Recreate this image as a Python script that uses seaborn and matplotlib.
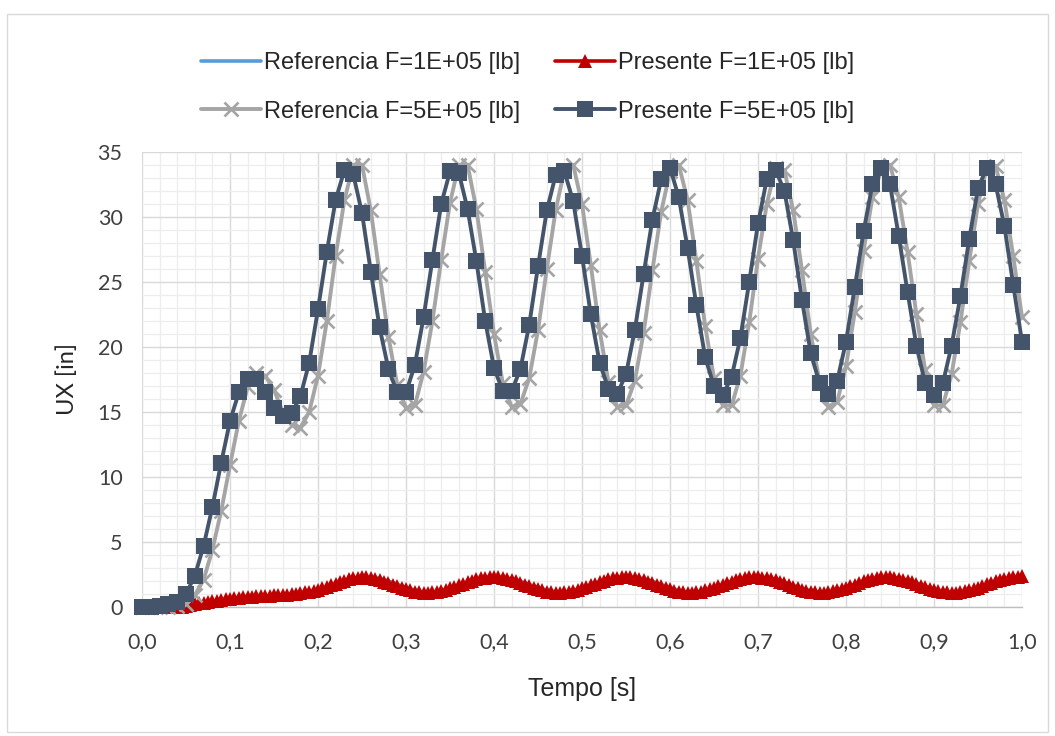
import numpy as np
import matplotlib
matplotlib.use("Agg")
import matplotlib.pyplot as plt
from matplotlib.ticker import MultipleLocator, FuncFormatter
from matplotlib.patches import Rectangle
import seaborn as sns

# Time grids [s]
t_coarse = np.round(np.arange(101) * 0.01, 3)
t_fine = np.round(np.arange(201) * 0.005, 3)

# Referencia F=1E+05 [lb] (every 0.01 s)
ref_1e5 = [
    0.0, 0.0, 0.0, 0.0, 0.0, 0.05, 0.18, 0.30, 0.42, 0.52,
    0.60, 0.68, 0.74, 0.79, 0.83, 0.87, 0.91, 0.96, 1.03, 1.12,
    1.25, 1.44, 1.68, 1.93, 2.13, 2.26, 2.30, 2.20, 2.00, 1.75,
    1.50, 1.30, 1.16, 1.10, 1.16, 1.33, 1.56, 1.80, 2.04, 2.20,
    2.29, 2.28, 2.18, 1.98, 1.74, 1.50, 1.30, 1.16, 1.10, 1.15,
    1.30, 1.52, 1.77, 2.00, 2.18, 2.28, 2.28, 2.18, 1.98, 1.73,
    1.48, 1.28, 1.15, 1.10, 1.18, 1.36, 1.60, 1.85, 2.07, 2.22,
    2.29, 2.26, 2.13, 1.92, 1.68, 1.44, 1.25, 1.13, 1.11, 1.20,
    1.40, 1.65, 1.90, 2.10, 2.24, 2.29, 2.23, 2.07, 1.84, 1.60,
    1.38, 1.20, 1.11, 1.12, 1.24, 1.45, 1.70, 1.95, 2.14, 2.26,
    2.30,
]

# Presente F=1E+05 [lb] (every 0.005 s)
pres_1e5 = [
    0.0, 0.0, 0.0, 0.0, 0.0, 0.0, 0.0, 0.0, 0.0, 0.02,
    0.08, 0.15, 0.22, 0.28, 0.34, 0.40, 0.45, 0.50, 0.55, 0.60,
    0.64, 0.68, 0.71, 0.74, 0.77, 0.79, 0.81, 0.83, 0.85, 0.87,
    0.89, 0.91, 0.93, 0.96, 0.99, 1.03, 1.07, 1.12, 1.18, 1.25,
    1.33, 1.43, 1.54, 1.66, 1.78, 1.90, 2.02, 2.12, 2.20, 2.26,
    2.28, 2.27, 2.23, 2.16, 2.07, 1.96, 1.84, 1.72, 1.60, 1.48,
    1.37, 1.27, 1.19, 1.13, 1.10, 1.10, 1.12, 1.17, 1.24, 1.33,
    1.43, 1.55, 1.67, 1.79, 1.91, 2.02, 2.12, 2.20, 2.26, 2.29,
    2.30, 2.28, 2.24, 2.17, 2.08, 1.97, 1.85, 1.73, 1.60, 1.48,
    1.37, 1.27, 1.19, 1.13, 1.10, 1.10, 1.12, 1.17, 1.24, 1.33,
    1.43, 1.55, 1.67, 1.79, 1.91, 2.02, 2.12, 2.20, 2.26, 2.29,
    2.29, 2.27, 2.22, 2.15, 2.06, 1.95, 1.83, 1.71, 1.58, 1.46,
    1.35, 1.26, 1.18, 1.12, 1.09, 1.10, 1.13, 1.19, 1.27, 1.37,
    1.48, 1.60, 1.72, 1.84, 1.96, 2.06, 2.15, 2.22, 2.27, 2.29,
    2.29, 2.26, 2.21, 2.14, 2.04, 1.93, 1.81, 1.68, 1.56, 1.44,
    1.33, 1.24, 1.17, 1.12, 1.10, 1.11, 1.14, 1.20, 1.28, 1.38,
    1.49, 1.61, 1.73, 1.85, 1.97, 2.07, 2.16, 2.23, 2.27, 2.29,
    2.28, 2.25, 2.19, 2.11, 2.01, 1.90, 1.78, 1.65, 1.53, 1.42,
    1.32, 1.23, 1.16, 1.12, 1.10, 1.11, 1.15, 1.21, 1.29, 1.39,
    1.50, 1.62, 1.74, 1.86, 1.97, 2.08, 2.17, 2.24, 2.29, 2.32,
    2.35,
]

# Referencia F=5E+05 [lb] (every 0.01 s)
ref_5e5 = [
    0.0, 0.0, 0.0, 0.0, 0.1, 0.2, 0.9, 2.1, 4.4, 7.4,
    10.9, 14.3, 16.9, 18.0, 17.8, 16.7, 15.0, 14.0, 13.8, 15.0,
    17.8, 22.0, 27.0, 31.3, 34.0, 34.0, 30.5, 25.6, 20.8, 17.1,
    15.3, 15.5, 18.1, 22.0, 26.7, 31.1, 34.0, 34.0, 30.6, 25.8,
    21.0, 17.2, 15.4, 15.6, 17.6, 21.3, 26.0, 30.5, 33.6, 34.0,
    31.0, 26.3, 21.3, 17.3, 15.4, 15.5, 17.4, 21.1, 25.9, 30.4,
    33.5, 34.0, 31.3, 26.6, 21.6, 17.6, 15.5, 15.5, 17.8, 21.9,
    26.8, 31.0, 33.8, 33.6, 30.5, 25.9, 21.0, 17.3, 15.4, 15.8,
    18.5, 22.7, 27.4, 31.5, 33.6, 34.0, 31.5, 27.3, 22.5, 18.2,
    15.5, 15.5, 17.9, 21.9, 26.6, 31.0, 33.8, 33.9, 31.3, 27.0,
    22.3,
]

# Presente F=5E+05 [lb] (every 0.01 s)
pres_5e5 = [
    0.0, 0.0, 0.1, 0.2, 0.4, 1.0, 2.4, 4.7, 7.7, 11.1,
    14.3, 16.5, 17.5, 17.5, 16.5, 15.3, 14.7, 14.9, 16.2, 18.8,
    22.9, 27.3, 31.3, 33.6, 33.3, 30.3, 25.8, 21.5, 18.3, 16.5,
    16.5, 18.6, 22.3, 26.7, 31.0, 33.5, 33.4, 30.6, 26.6, 22.0,
    18.4, 16.6, 16.6, 18.3, 21.7, 26.2, 30.5, 33.2, 33.5, 31.2,
    27.0, 22.5, 18.8, 16.8, 16.4, 17.9, 21.3, 25.6, 29.8, 32.9,
    33.8, 31.5, 27.6, 23.2, 19.2, 17.0, 16.3, 17.7, 20.7, 25.0,
    29.5, 32.9, 33.6, 32.0, 28.2, 23.6, 19.5, 17.2, 16.4, 17.4,
    20.4, 24.6, 28.9, 32.5, 33.8, 32.5, 28.5, 24.2, 20.1, 17.2,
    16.3, 17.2, 20.1, 23.9, 28.3, 32.2, 33.8, 32.5, 29.3, 24.8,
    20.4,
]

labels = [
    "Referencia F=1E+05 [lb]",
    "Presente F=1E+05 [lb]",
    "Referencia F=5E+05 [lb]",
    "Presente F=5E+05 [lb]",
]

sns.set_theme(style="white")
plt.rcParams["font.family"] = ["Lato", "DejaVu Sans"]

fig = plt.figure(figsize=(10.55, 7.36), dpi=100)
ax = fig.add_axes([142 / 1055, 1 - 607 / 736, 880 / 1055, 455 / 736])

sns.lineplot(x=t_coarse, y=ref_1e5, ax=ax, color="#5B9BD5", linewidth=2.6,
             label=labels[0], zorder=3)
sns.lineplot(x=t_fine, y=pres_1e5, ax=ax, color="#C00000", linewidth=2.6,
             marker="^", markersize=10, markeredgewidth=0, label=labels[1],
             zorder=4)
sns.lineplot(x=t_coarse, y=ref_5e5, ax=ax, color="#A5A5A5", linewidth=2.8,
             marker="x", markersize=9.5, markeredgewidth=1.9,
             markeredgecolor="#A5A5A5", label=labels[2], zorder=5)
sns.lineplot(x=t_coarse, y=pres_5e5, ax=ax, color="#44546A", linewidth=2.8,
             marker="s", markersize=11, markeredgewidth=0, label=labels[3],
             zorder=6)

for ln in ax.lines:
    ln.set_clip_on(False)

ax.set_xlim(0, 1.0)
ax.set_ylim(0, 35)
ax.xaxis.set_major_locator(MultipleLocator(0.1))
ax.xaxis.set_minor_locator(MultipleLocator(0.02))
ax.yaxis.set_major_locator(MultipleLocator(5))
ax.yaxis.set_minor_locator(MultipleLocator(1))
ax.xaxis.set_major_formatter(FuncFormatter(lambda v, p: f"{v:.1f}".replace(".", ",")))
ax.yaxis.set_major_formatter(FuncFormatter(lambda v, p: f"{v:.0f}"))

ax.grid(which="major", color="#D9D9D9", linewidth=1.0, zorder=0)
ax.grid(which="minor", color="#EDEDED", linewidth=0.9, zorder=0)
ax.set_axisbelow(True)

for side in ["top", "right", "left"]:
    ax.spines[side].set_visible(False)
ax.spines["bottom"].set_color("#BFBFBF")
ax.spines["bottom"].set_linewidth(1.0)

ax.tick_params(axis="both", which="both", length=0, labelsize=15.5,
               labelcolor="#404040")
ax.tick_params(axis="x", pad=18)
ax.tick_params(axis="y", pad=14)

ax.set_xlabel("Tempo [s]", fontsize=18, color="#262626", labelpad=18,
              family=["Liberation Sans", "DejaVu Sans"])
ax.set_ylabel("UX [in]", fontsize=17, color="#262626", labelpad=14)

handles, labs = ax.get_legend_handles_labels()
ax.get_legend().remove()
order = [0, 2, 1, 3]
fig.legend([handles[i] for i in order], [labs[i] for i in order],
           loc="upper center", bbox_to_anchor=(0.5, 0.958), ncol=2,
           frameon=False, handlelength=2.55,
           handletextpad=0.1, columnspacing=1.5, labelspacing=1.12,
           prop={"family": ["Liberation Sans", "DejaVu Sans"], "size": 17})

fig.patches.append(Rectangle((7 / 1055, 4 / 736), 1041 / 1055, 718 / 736,
                             transform=fig.transFigure, fill=False,
                             edgecolor="#D9D9D9", linewidth=1.0))

fig.savefig("out.png", dpi=100, facecolor="white")
